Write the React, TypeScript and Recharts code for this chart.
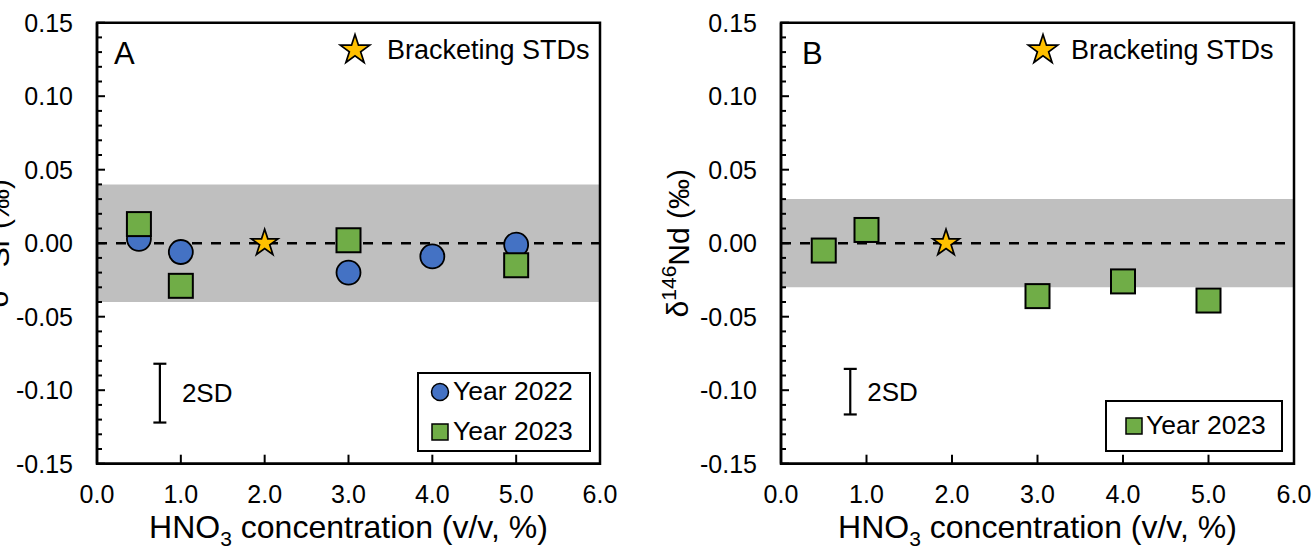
import React from 'react';
import {
  ScatterChart,
  Scatter,
  XAxis,
  YAxis,
  ReferenceArea,
  ReferenceLine,
  ReferenceDot,
  ErrorBar,
  Label,
} from 'recharts';

const FONT = '"Liberation Sans", Arial, Helvetica, sans-serif';

// ---------- axis ticks ----------
const xTicks = [0, 1, 2, 3, 4, 5, 6];
const yMajorTicks = [-0.15, -0.1, -0.05, 0, 0.05, 0.1, 0.15];
const yMinorCount = 5; // minor divisions per major step
const yDomain: [number, number] = [-0.15, 0.15];
const xDomain: [number, number] = [0, 6];

// ---------- panel A ----------
const a2022X = [0.5, 1.0, 3.0, 4.0, 5.0];
const a2022Y = [0.003, -0.006, -0.02, -0.009, -0.001];
const a2023X = [0.5, 1.0, 3.0, 5.0];
const a2023Y = [0.013, -0.029, 0.002, -0.015];
const aStdX = [2.0];
const aStdY = [0.0];
const aBand = [-0.04, 0.04];
const a2sdX = [0.75];
const a2sdY = [-0.102];
const a2sdErr = [0.02];

// ---------- panel B ----------
const b2023X = [0.5, 1.0, 3.0, 4.0, 5.0];
const b2023Y = [-0.005, 0.009, -0.036, -0.026, -0.039];
const bStdX = [1.93];
const bStdY = [0.0];
const bBand = [-0.03, 0.03];
const b2sdX = [0.81];
const b2sdY = [-0.101];
const b2sdErr = [0.0155];

const BLUE = '#4472C4';
const GREEN = '#70AD47';
const GOLD = '#FFC000';
const GRAY = '#BFBFBF';

const zip = (xs: number[], ys: number[]) => xs.map((x, i) => ({ x, y: ys[i] }));
const zipErr = (xs: number[], ys: number[], es: number[]) =>
  xs.map((x, i) => ({ x, y: ys[i], err: es[i] }));

// build y tick list (majors plus minors between)
const yTicks: number[] = [];
for (let i = 0; i < yMajorTicks.length - 1; i++) {
  const a = yMajorTicks[i];
  const b = yMajorTicks[i + 1];
  for (let k = 0; k < yMinorCount; k++) {
    yTicks.push(+(a + ((b - a) * k) / yMinorCount).toFixed(3));
  }
}
yTicks.push(yMajorTicks[yMajorTicks.length - 1]);

const isMajor = (v: number) => yMajorTicks.some((m) => Math.abs(m - v) < 1e-6);

const starPoints = (cx: number, cy: number, R: number) => {
  const r = R * 0.382;
  const pts: string[] = [];
  for (let i = 0; i < 10; i++) {
    const ang = -Math.PI / 2 + (i * Math.PI) / 5;
    const rad = i % 2 === 0 ? R : r;
    pts.push(`${cx + rad * Math.cos(ang)},${cy + rad * Math.sin(ang)}`);
  }
  return pts.join(' ');
};

const CircleShape = (p: any) => (
  <circle cx={p.cx} cy={p.cy} r={12} fill={BLUE} stroke="#000" strokeWidth={1.8} />
);
const SquareShape = (p: any) => (
  <rect x={p.cx - 12} y={p.cy - 12} width={24} height={24} fill={GREEN} stroke="#000" strokeWidth={2} />
);
const StarShape = (p: any) => (
  <polygon points={starPoints(p.cx, p.cy, 14)} fill={GOLD} stroke="#000" strokeWidth={1.7} strokeLinejoin="miter" />
);
const NoShape = () => <g />;

const YTick = (props: any) => {
  const { x, y, payload } = props;
  const v = payload.value as number;
  const major = isMajor(v);
  return (
    <g>
      <line x1={x} y1={y} x2={x + (major ? 8 : 5)} y2={y} stroke="#000" strokeWidth={2} />
      {major && (
        <text
          x={x - 24}
          y={y}
          textAnchor="end"
          dominantBaseline="central"
          fontSize={25}
          fontFamily={FONT}
          fill="#000"
        >
          {v.toFixed(2)}
        </text>
      )}
    </g>
  );
};

const XTick = (props: any) => {
  const { x, y, payload } = props;
  const v = payload.value as number;
  return (
    <g>
      <line x1={x} y1={y} x2={x} y2={y - 9} stroke="#000" strokeWidth={2} />
      <text
        x={x}
        y={y + 30}
        textAnchor="middle"
        dominantBaseline="central"
        fontSize={25}
        fontFamily={FONT}
        fill="#000"
      >
        {v.toFixed(1)}
      </text>
    </g>
  );
};

const XTitle = (props: any) => {
  const vb = props.viewBox || {};
  const cx = vb.x + vb.width / 2;
  const by = vb.y + 74;
  return (
    <text x={cx} y={by} textAnchor="middle" fontSize={32} fontFamily={FONT} fill="#000">
      HNO
      <tspan fontSize={21} dy={8}>3</tspan>
      <tspan dy={-8}> concentration (v/v, %)</tspan>
    </text>
  );
};

const makeYTitle = (sup: string, el: string) => (props: any) => {
  const vb = props.viewBox || {};
  const cx = vb.x + 38;
  const cy = vb.y + vb.height / 2;
  return (
    <text
      x={cx}
      y={cy}
      transform={`rotate(-90, ${cx}, ${cy})`}
      textAnchor="middle"
      dominantBaseline="central"
      fontSize={30}
      fontFamily={FONT}
      fill="#000"
    >
      δ
      <tspan fontSize={21} dy={-10}>{sup}</tspan>
      <tspan dy={10}>{el} (‰)</tspan>
    </text>
  );
};

const SdLabel = (off: number) => (props: any) => {
  const vb = props.viewBox || {};
  return (
    <text
      x={vb.x + off}
      y={vb.y}
      dominantBaseline="central"
      fontSize={26}
      fontFamily={FONT}
      fill="#000"
    >
      2SD
    </text>
  );
};

type PanelProps = {
  left: number;
  width: number;
  yAxisWidth: number;
  marginRight: number;
  band: number[];
  std: { x: number; y: number }[];
  sd: { x: number; y: number; err: number }[];
  sdOff: number;
  series: { name: string; data: { x: number; y: number }[]; shape: any }[];
  sup: string;
  el: string;
};

const Panel = (p: PanelProps) => (
  <div style={{ position: 'absolute', left: p.left, top: 0 }}>
    <ScatterChart
      width={p.width}
      height={549}
      margin={{ top: 22.7, right: p.marginRight, left: 0, bottom: 25.3 }}
      style={{ overflow: 'visible' }}
    >
      <XAxis
        dataKey="x"
        type="number"
        domain={xDomain}
        ticks={xTicks}
        interval={0}
        allowDataOverflow
        tickSize={0}
        tickMargin={0}
        tick={XTick}
        axisLine={{ stroke: '#000', strokeWidth: 2.5 }}
        height={60}
      >
        <Label content={XTitle} />
      </XAxis>
      <YAxis
        dataKey="y"
        type="number"
        domain={yDomain}
        ticks={yTicks}
        interval={0}
        allowDataOverflow
        tickSize={0}
        tickMargin={0}
        tick={YTick}
        axisLine={{ stroke: '#000', strokeWidth: 2.5 }}
        width={p.yAxisWidth}
      >
        <Label content={makeYTitle(p.sup, p.el)} />
      </YAxis>
      <ReferenceArea y1={p.band[0]} y2={p.band[1]} x1={xDomain[0]} x2={xDomain[1]} fill={GRAY} fillOpacity={1} stroke="none" />
      <ReferenceArea
        x1={xDomain[0]}
        x2={xDomain[1]}
        y1={yDomain[0]}
        y2={yDomain[1]}
        fill="none"
        stroke="#000"
        strokeWidth={2.5}
        ifOverflow="visible"
      />
      <ReferenceLine y={0} stroke="#000" strokeWidth={2.4} strokeDasharray="10 9" />
      <Scatter data={p.sd} shape={NoShape} isAnimationActive={false}>
        <ErrorBar dataKey="err" direction="y" width={6.5} stroke="#000" strokeWidth={2.2} />
      </Scatter>
      <ReferenceDot x={p.sd[0].x} y={p.sd[0].y} r={0} fill="none" stroke="none">
        <Label content={SdLabel(p.sdOff)} />
      </ReferenceDot>
      <Scatter data={p.std} shape={StarShape} isAnimationActive={false} />
      {p.series.map((s) => (
        <Scatter key={s.name} name={s.name} data={s.data} shape={s.shape} isAnimationActive={false} />
      ))}
    </ScatterChart>
  </div>
);

const LegendStar = ({ cx, cy }: { cx: number; cy: number }) => (
  <svg style={{ position: 'absolute', left: cx - 17, top: cy - 17 }} width={34} height={34}>
    <polygon points={starPoints(17, 18, 15.5)} fill={GOLD} stroke="#000" strokeWidth={1.7} />
  </svg>
);

const TextAt = ({ x, y, size, children }: any) => (
  <div
    style={{
      position: 'absolute',
      left: x,
      top: y - size * 0.6,
      fontSize: size,
      lineHeight: `${size * 1.2}px`,
      fontFamily: FONT,
      color: '#000',
      whiteSpace: 'nowrap',
    }}
  >
    {children}
  </div>
);

export default function App() {
  return (
    <div
      style={{
        position: 'absolute',
        left: 0,
        top: 0,
        width: 1313,
        height: 549,
        overflow: 'hidden',
        background: '#fff',
        fontFamily: FONT,
      }}
    >
      <Panel
        left={-40}
        width={660}
        yAxisWidth={137}
        marginRight={20}
        band={aBand}
        std={zip(aStdX, aStdY)}
        sd={zipErr(a2sdX, a2sdY, a2sdErr)}
        sdOff={22}
        series={[
          { name: 'Year 2022', data: zip(a2022X, a2022Y), shape: CircleShape },
          { name: 'Year 2023', data: zip(a2023X, a2023Y), shape: SquareShape },
        ]}
        sup="88"
        el="Sr"
      />
      <Panel
        left={640}
        width={673}
        yAxisWidth={141}
        marginRight={19}
        band={bBand}
        std={zip(bStdX, bStdY)}
        sd={zipErr(b2sdX, b2sdY, b2sdErr)}
        sdOff={17}
        series={[{ name: 'Year 2023', data: zip(b2023X, b2023Y), shape: SquareShape }]}
        sup="146"
        el="Nd"
      />

      {/* panel letters */}
      <TextAt x={114} y={54} size={31}>A</TextAt>
      <TextAt x={802} y={54} size={31}>B</TextAt>

      {/* bracketing standard legends */}
      <LegendStar cx={355} cy={49} />
      <TextAt x={387} y={50} size={27}>Bracketing STDs</TextAt>
      <LegendStar cx={1043} cy={49} />
      <TextAt x={1071} y={50} size={27}>Bracketing STDs</TextAt>

      {/* year legend A */}
      <div
        style={{
          position: 'absolute',
          left: 417,
          top: 372,
          width: 174,
          height: 80,
          border: '2px solid #000',
          boxSizing: 'border-box',
          background: '#fff',
        }}
      />
      <svg style={{ position: 'absolute', left: 430, top: 382 }} width={20} height={60}>
        <circle cx={10} cy={10} r={8.5} fill={BLUE} stroke="#000" strokeWidth={1.5} />
        <rect x={2} y={42} width={16} height={16} fill={GREEN} stroke="#000" strokeWidth={1.5} />
      </svg>
      <TextAt x={453} y={392} size={26.5}>Year 2022</TextAt>
      <TextAt x={453} y={432} size={26.5}>Year 2023</TextAt>

      {/* year legend B */}
      <div
        style={{
          position: 'absolute',
          left: 1105,
          top: 400,
          width: 178,
          height: 52,
          border: '2px solid #000',
          boxSizing: 'border-box',
          background: '#fff',
        }}
      />
      <svg style={{ position: 'absolute', left: 1124, top: 416 }} width={20} height={20}>
        <rect x={2} y={2} width={16} height={16} fill={GREEN} stroke="#000" strokeWidth={1.5} />
      </svg>
      <TextAt x={1146} y={426} size={26.5}>Year 2023</TextAt>
    </div>
  );
}
